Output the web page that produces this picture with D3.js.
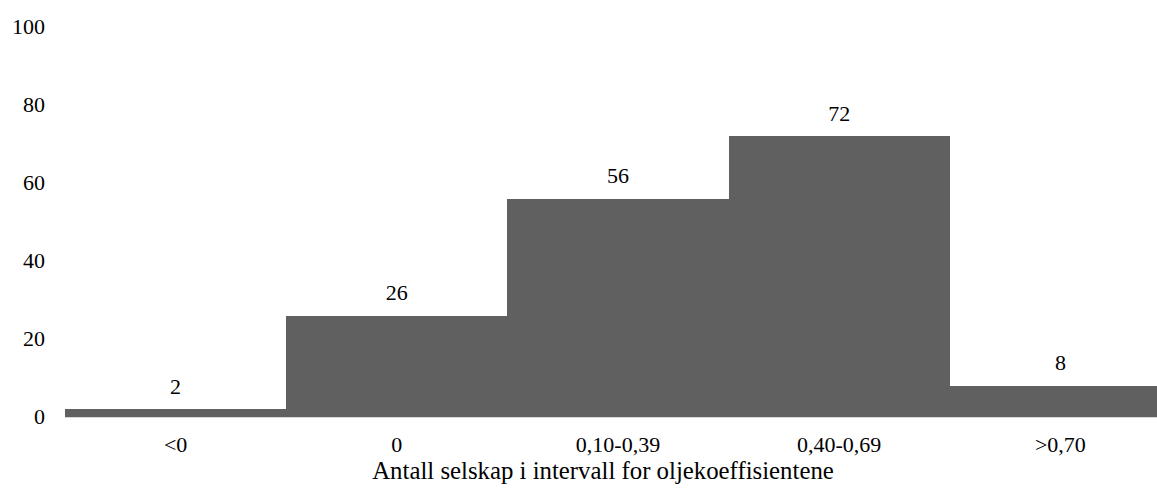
<!DOCTYPE html>
<html><head><meta charset="utf-8">
<script src="https://cdn.jsdelivr.net/npm/d3@7"></script>
<style>body{margin:0;background:#fff}svg{display:block}</style>
</head><body>
<svg id="c" width="1157" height="496"></svg>
<script>
const categories = ["<0", "0", "0,10-0,39", "0,40-0,69", ">0,70"];
const values = [2, 26, 56, 72, 8];
const yTicks = [0, 20, 40, 60, 80, 100];
const xTitle = "Antall selskap i intervall for oljekoeffisientene";

const FONT = "'Liberation Serif', 'Times New Roman', Times, serif";
const svg = d3.select("#c");
const fs = 22;
const x = d3.scaleBand().domain(categories).range([65, 1171]).padding(0);
const y = d3.scaleLinear().domain([0, 100]).range([417, 27]);

svg.append("line").attr("x1", 65).attr("x2", 1171).attr("y1", y(0)+0.5).attr("y2", y(0)+0.5)
  .attr("stroke", "#d9d9d9").attr("stroke-width", 1);

svg.selectAll("rect.bar").data(values).join("rect").attr("class", "bar")
  .attr("x", (d, i) => x(categories[i]))
  .attr("width", x.bandwidth() + 0.6)
  .attr("y", d => y(d))
  .attr("height", d => y(0) - y(d))
  .attr("fill", "#606060")
  .attr("shape-rendering", "crispEdges");

svg.selectAll("text.val").data(values).join("text").attr("class", "val")
  .attr("x", (d, i) => x(categories[i]) + x.bandwidth() / 2)
  .attr("y", d => y(d) - 15.5)
  .attr("text-anchor", "middle").style("font-size", fs + "px").style("font-family", FONT)
  .text(d => d);

svg.selectAll("text.yt").data(yTicks).join("text").attr("class", "yt")
  .attr("x", 45).attr("y", d => y(d)).attr("dy", "0.33em")
  .attr("text-anchor", "end").style("font-size", fs + "px").style("font-family", FONT)
  .text(d => d);

svg.selectAll("text.xt").data(categories).join("text").attr("class", "xt")
  .attr("x", d => x(d) + x.bandwidth() / 2)
  .attr("y", 452)
  .attr("text-anchor", "middle").style("font-size", fs + "px").style("font-family", FONT)
  .text(d => d);

svg.append("text").attr("x", 603).attr("y", 479)
  .attr("text-anchor", "middle").style("font-size", "24.8px").style("font-family", FONT)
  .text(xTitle);
</script>
</body></html>
